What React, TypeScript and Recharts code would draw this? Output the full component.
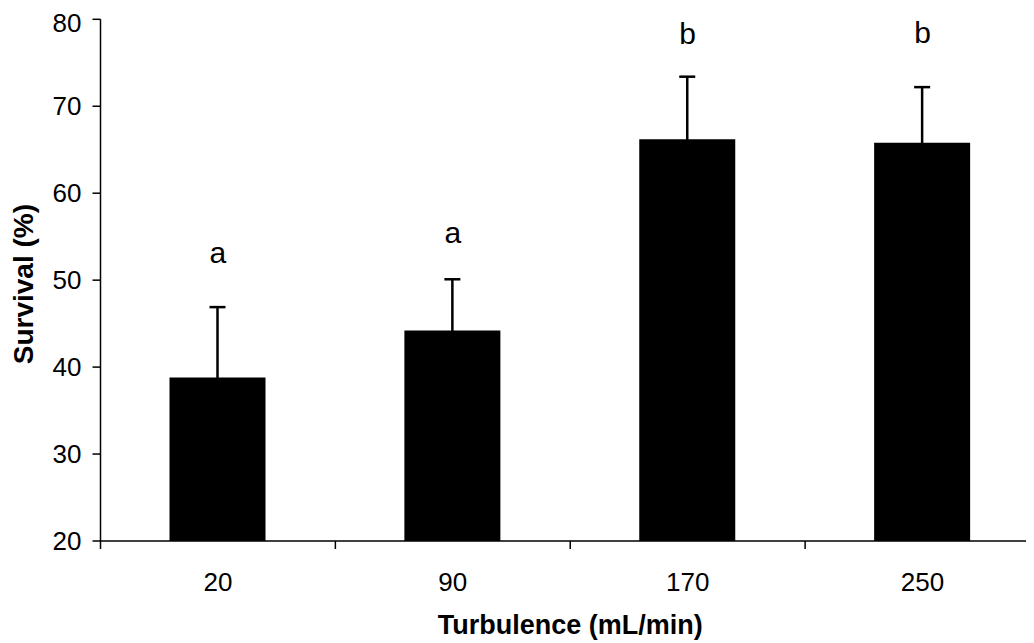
import {
  Bar,
  ComposedChart,
  ErrorBar,
  Label,
  Scatter,
  XAxis,
  YAxis,
} from "recharts";

const categories = ["20", "90", "170", "250"];
const survival = [38.8, 44.2, 66.2, 65.8];
const sd = [8.1, 5.9, 7.2, 6.4];
const groupLetters = ["a", "a", "b", "b"];
const letterY = [52.0, 54.3, 77.2, 77.3];
const yTicks = [20, 30, 40, 50, 60, 70, 80];

const data = categories.map((c, i) => ({
  flow: c,
  survival: survival[i],
  sd: sd[i],
  letter: groupLetters[i],
  letterY: letterY[i],
}));

const FONT = "'Liberation Sans', Arial, sans-serif";

const LetterMark = (props: any) => (
  <text
    x={props.cx}
    y={props.cy}
    textAnchor="middle"
    fontFamily={FONT}
    fontSize={30}
    fill="#000"
  >
    {props.payload.letter}
  </text>
);

// label in the middle of each group, tick marks on the group edges
const FlowTick = (props: any) => {
  const { x, y, payload, width, visibleTicksCount, index } = props;
  const half = payload.offset || width / visibleTicksCount / 2;
  const last = index === visibleTicksCount - 1;
  return (
    <g>
      <line x1={x - half} y1={y} x2={x - half} y2={y + 8} stroke="#000" strokeWidth={1.5} />
      {last && (
        <line x1={x + half} y1={y} x2={x + half} y2={y + 8} stroke="#000" strokeWidth={1.5} />
      )}
      <text
        x={x}
        y={y + 32}
        dy="0.71em"
        textAnchor="middle"
        fontFamily={FONT}
        fontSize={26}
        fill="#000"
      >
        {payload.value}
      </text>
    </g>
  );
};

const YTitle = (props: any) => {
  const { viewBox } = props;
  const x = viewBox.x + 25;
  const y = viewBox.y + viewBox.height / 2 + 4;
  return (
    <text
      x={x}
      y={y}
      transform={`rotate(-90, ${x}, ${y})`}
      textAnchor="middle"
      fontFamily={FONT}
      fontWeight="bold"
      fontSize={28}
      fill="#000"
    >
      Survival (%)
    </text>
  );
};

export default function App() {
  return (
    <div style={{ width: 1026, height: 635, overflow: "hidden", background: "#fff" }}>
      <ComposedChart
        width={1060}
        height={635}
        data={data}
        margin={{ top: 11.3, right: 28, bottom: 0, left: 0 }}
      >
        <XAxis
          dataKey="flow"
          height={102}
          interval={0}
          tickSize={0}
          tickMargin={0}
          tickLine={false}
          tick={<FlowTick />}
          axisLine={{ stroke: "#000", strokeWidth: 1.5 }}
        >
          <Label
            value="Turbulence (mL/min)"
            position="insideBottom"
            offset={9}
            fill="#000"
            fontSize={27}
            fontWeight="bold"
            fontFamily={FONT}
          />
        </XAxis>
        <YAxis
          domain={[20, 80]}
          ticks={yTicks}
          width={92.5}
          tickSize={8}
          tickMargin={11}
          axisLine={{ stroke: "#000", strokeWidth: 1.5 }}
          tickLine={{ stroke: "#000", strokeWidth: 1.5 }}
          tick={{ fill: "#000", fontSize: 26, fontFamily: FONT }}
          label={<YTitle />}
        />
        <Bar dataKey="survival" fill="#000" barSize={96} isAnimationActive={false}>
          <ErrorBar
            dataKey="sd"
            direction="y"
            width={8}
            stroke="#000"
            strokeWidth={2.5}
            isAnimationActive={false}
          />
        </Bar>
        <Scatter dataKey="letterY" shape={<LetterMark />} isAnimationActive={false} />
      </ComposedChart>
    </div>
  );
}
